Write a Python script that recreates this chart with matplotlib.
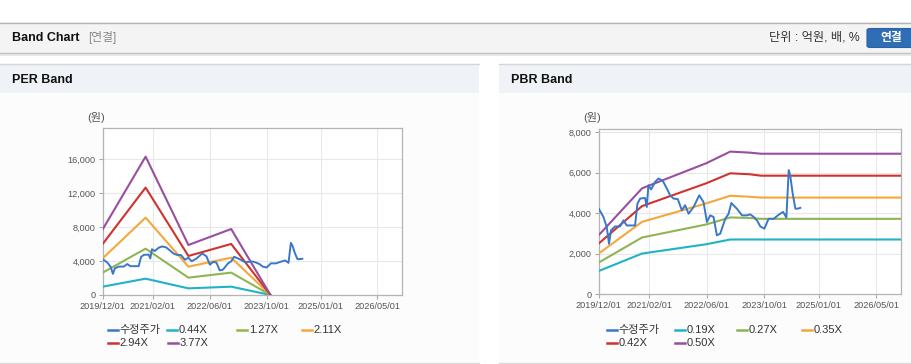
import numpy as np
import pandas as pd
import matplotlib
matplotlib.use('Agg')
import matplotlib.pyplot as plt
from matplotlib.patches import Rectangle, FancyBboxPatch
from matplotlib.lines import Line2D
from matplotlib.ticker import FuncFormatter

plt.rcParams['font.family'] = ['Liberation Sans', 'Noto Sans CJK KR', 'DejaVu Sans']

# --- data -----------------------------------------------------------------
price_dates = ['2019-12-01', '2020-01-10', '2020-02-07', '2020-02-26', '2020-03-14', '2020-04-17',
               '2020-05-29', '2020-06-27', '2020-07-25', '2020-09-05', '2020-10-03', '2020-10-23',
               '2020-11-15', '2020-12-27', '2021-01-10', '2021-01-24', '2021-02-16', '2021-03-22',
               '2021-04-19', '2021-05-25', '2021-06-28', '2021-07-26', '2021-08-24', '2021-09-29',
               '2021-11-02', '2021-11-30', '2021-12-29', '2022-02-09', '2022-03-29', '2022-05-04',
               '2022-06-02', '2022-06-30', '2022-07-28', '2022-08-25', '2022-09-22', '2022-11-04',
               '2022-12-02', '2022-12-25', '2023-02-10', '2023-03-25', '2023-05-06', '2023-06-03',
               '2023-07-02', '2023-07-30', '2023-08-27', '2023-09-30', '2023-11-05', '2023-12-18',
               '2024-01-29', '2024-03-06', '2024-04-03', '2024-04-23', '2024-05-07', '2024-05-26',
               '2024-06-18', '2024-07-08', '2024-07-30']
price = [4220, 3810, 3310, 2480, 3150, 3340,
         3340, 3640, 3390, 3390, 3390, 4470,
         4720, 4750, 4300, 5380, 5170, 5550,
         5710, 5600, 5220, 4880, 4720, 4690,
         4140, 4390, 3970, 4300, 4880, 4550,
         3560, 3890, 3810, 2900, 2980, 3720,
         3970, 4500, 4220, 3890, 3890, 3940,
         3810, 3640, 3340, 3230, 3720, 3720,
         3920, 4060, 3780, 6130, 5800, 4970,
         4220, 4220, 4260]

per_dates = ['2019-12-01', '2020-12-01', '2021-12-01', '2022-12-01', '2023-11-01']
per_labels = ['0.44X', '1.27X', '2.11X', '2.94X', '3.77X']
per_044 = [980, 1920, 780, 980, 0]
per_127 = [2630, 5450, 2040, 2630, 0]
per_211 = [4310, 9100, 3330, 4390, 0]
per_294 = [6000, 12630, 4590, 6000, 0]
per_377 = [7720, 16270, 5880, 7760, 0]

pbr_dates = ['2019-12-01', '2020-12-01', '2022-05-27', '2022-12-16', '2023-06-01', '2023-09-01', '2026-12-31']
pbr_labels = ['0.19X', '0.27X', '0.35X', '0.42X', '0.50X']
pbr_019 = [1136, 2000, 2460, 2695, 2695, 2695, 2695]
pbr_027 = [1553, 2794, 3439, 3786, 3760, 3717, 3717]
pbr_035 = [2000, 3568, 4481, 4859, 4809, 4768, 4768]
pbr_042 = [2496, 4347, 5474, 5970, 5920, 5851, 5851]
pbr_050 = [2908, 5226, 6466, 7042, 6990, 6937, 6937]

xtick_dates = ['2019/12/01', '2021/02/01', '2022/06/01', '2023/10/01', '2025/01/01', '2026/05/01']
price_label = '수정주가'

colors = ['#1fb3c5', '#8fb553', '#f4a73b', '#d0322e', '#984f9f']
price_color = '#3b77c8'

# --- figure ---------------------------------------------------------------
W, H = 912, 364
fig = plt.figure(figsize=(W / 100, H / 100), dpi=100)


def fx(x):
    return x / W


def fy(y):
    return 1 - y / H


def rect(x0, y0, x1, y1, color, z=0):
    fig.add_artist(Rectangle((fx(x0), fy(y1)), fx(x1 - x0), (y1 - y0) / H,
                             transform=fig.transFigure, facecolor=color,
                             edgecolor='none', zorder=z))


def hline(x0, x1, y, color, lw=1.0, z=1):
    fig.add_artist(Line2D([fx(x0), fx(x1)], [fy(y), fy(y)], transform=fig.transFigure,
                          color=color, lw=lw, zorder=z))


# top header bar
rect(0, 22, W, 53, '#f4f4f4')
hline(0, W, 22.5, '#b5b5b5')
rect(0, 53, W, 56, '#e9e9e9')
hline(0, W, 53, '#c2c2c2')
fig.text(fx(12), fy(38), 'Band Chart', fontsize=9, fontweight='bold', color='#111',
         va='center', ha='left')
fig.text(fx(88), fy(38), '[연결]', fontsize=8.5, color='#888', va='center', ha='left')
fig.text(fx(860), fy(38), '단위 : 억원, 배, %', fontsize=8.8, color='#333', va='center', ha='right')
fig.add_artist(FancyBboxPatch((fx(867), fy(47.5)), fx(50), 19 / H,
                              boxstyle='round,pad=0,rounding_size=0.004',
                              transform=fig.transFigure, facecolor='#2f6db5',
                              edgecolor='#2a62a3', lw=0.8, zorder=2))
fig.text(fx(891), fy(38), '연결', fontsize=8.5, fontweight='bold', color='white',
         va='center', ha='center', zorder=3)

# panels
for x0, x1, title in [(0, 479, 'PER Band'), (499, W, 'PBR Band')]:
    rect(x0, 64, x1, 93, '#eff2f7')
    hline(x0, x1, 64, '#d6d6d6')
    rect(x0, 93, x1, 362, '#fcfcfc')
    hline(x0, x1, 362.5, '#d9d9d9')
    fig.text(fx(x0 + 12), fy(80), title, fontsize=9, fontweight='bold', color='#111',
             va='center', ha='left')

xmin, xmax = pd.Timestamp('2019-12-01'), pd.Timestamp('2026-11-27')
ticks = pd.to_datetime(xtick_dates, format='%Y/%m/%d')


def band_axes(box, ymax, ystep, dates, bands, labels, legend_x):
    l, t, r, b = box
    ax = fig.add_axes([fx(l), fy(b), fx(r - l), (b - t) / H])
    ax.set_facecolor('white')
    d = pd.to_datetime(dates)
    ax.plot(pd.to_datetime(price_dates), price, color=price_color, lw=1.4, zorder=4)
    for vals, c in zip(bands, colors):
        ax.plot(d, vals, color=c, lw=1.5, zorder=3)
    ax.set_xlim(xmin, xmax)
    ax.set_ylim(0, ymax)
    ax.set_xticks(ticks)
    ax.set_xticklabels(xtick_dates)
    ax.set_yticks(np.arange(0, ymax, ystep))
    ax.yaxis.set_major_formatter(FuncFormatter(lambda v, p: f'{v:,.0f}'))
    ax.tick_params(axis='both', colors='#aaaaaa', labelcolor='#555555', labelsize=6.6,
                   length=3, width=0.8, pad=2)
    ax.grid(True, color='#e8e8e8', lw=0.8)
    ax.set_axisbelow(True)
    for s in ax.spines.values():
        s.set_color('#b4b4b4')
        s.set_linewidth(0.9)
    fig.text(fx(l - 15), fy(t - 11), '(원)', fontsize=8, color='#555', ha='left', va='center')

    # legend, two rows
    names = [price_label] + labels
    cols = [price_color] + colors
    for i, (name, c) in enumerate(zip(names, cols)):
        row = 0 if i < 4 else 1
        x = legend_x[i]
        y = 330 if row == 0 else 343
        fig.add_artist(Line2D([fx(x), fx(x + 10)], [fy(y), fy(y)], transform=fig.transFigure,
                              color=c, lw=1.8))
        fig.text(fx(x + 12), fy(y), name, fontsize=8, color='#333', va='center', ha='left')
    return ax


band_axes((102.7, 128.3, 402, 295), 19600, 4000, per_dates,
          [per_044, per_127, per_211, per_294, per_377], per_labels,
          [107.7, 166.7, 236.7, 301.7, 107.7, 168])
band_axes((598.7, 129, 901, 294), 8160, 2000, pbr_dates,
          [pbr_019, pbr_027, pbr_035, pbr_042, pbr_050], pbr_labels,
          [606.7, 675, 736.7, 801.7, 606.7, 675])

fig.savefig('out.png', dpi=100)
